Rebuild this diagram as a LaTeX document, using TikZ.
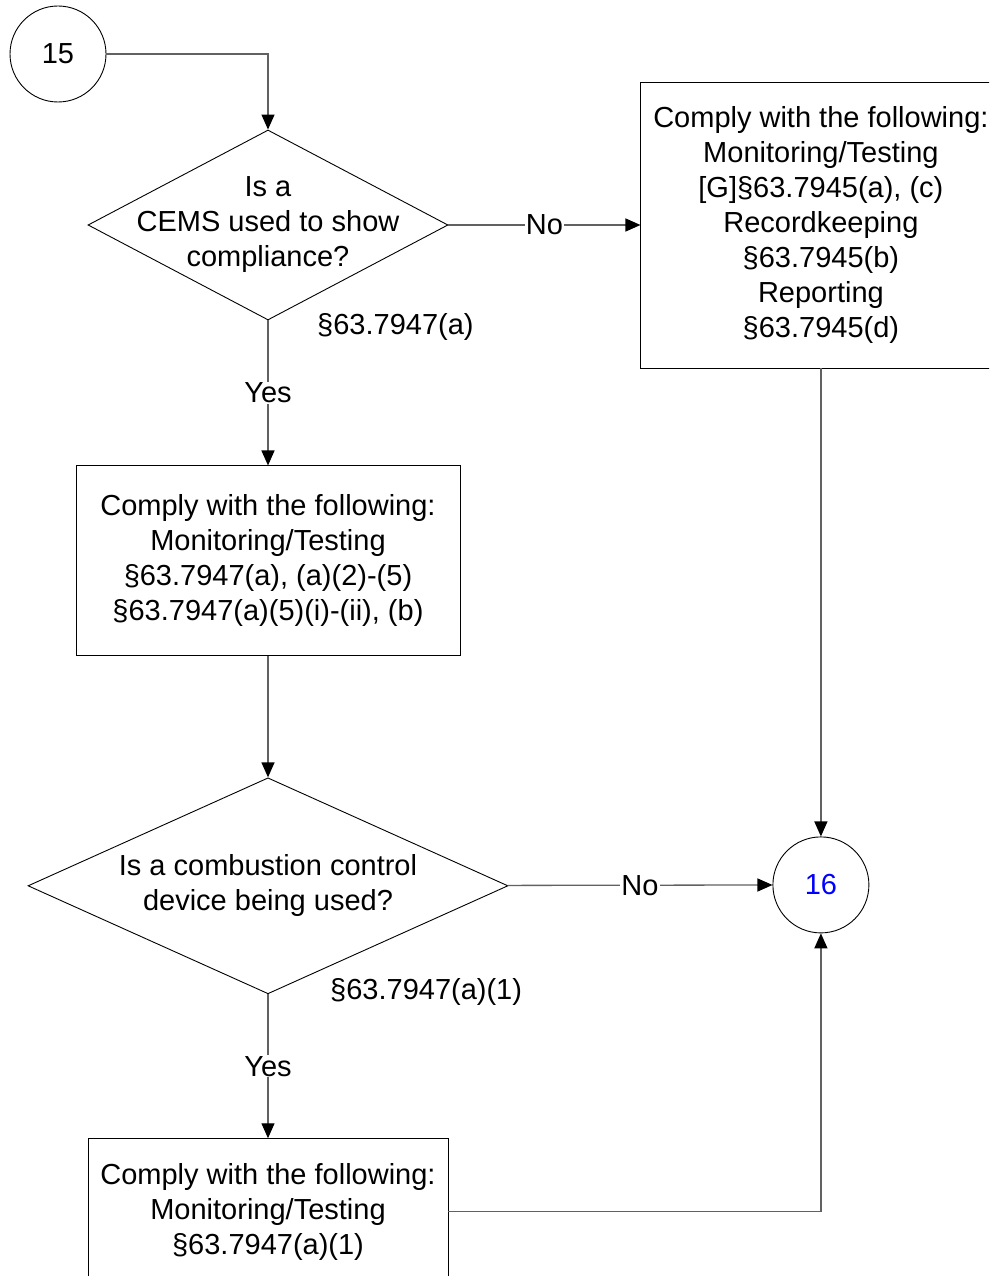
\documentclass[tikz,border=0pt]{standalone}
\usepackage{fontspec}
\setmainfont{Liberation Sans}
\usepackage{tikz}
\usetikzlibrary{positioning,shapes.geometric,arrows.meta}
\newcommand{\flowfont}{\fontsize{29}{35}\selectfont}
\tikzset{
  offpage/.style={circle, draw, line width=0.9pt, minimum size=96pt, inner sep=0pt, font=\flowfont},
  decision/.style={diamond, draw, line width=0.9pt, inner sep=0pt},
  action/.style={rectangle, draw, line width=0.9pt, align=center, inner sep=0pt, font=\flowfont},
  qtext/.style={align=center, inner sep=0pt, font=\flowfont},
  cite/.style={anchor=west, inner sep=0pt, font=\flowfont},
  answer/.style={fill=white, inner sep=1pt, font=\flowfont},
  flow/.style={draw=black!62, line width=1.3pt, -{Triangle[length=15pt,width=13pt,color=black]}},
}

\begin{document}
\begin{tikzpicture}[x=1pt, y=-1pt]
  \clip (0,0) rectangle (989,1276);

  % Define nodes
  \node[offpage] (c15) at (58,54) {15};
  \node[decision, minimum width=360pt, minimum height=190pt] (q1) at (268,225) {};
  \node[qtext] (q1t) at (q1) {Is a\\CEMS used to show\\compliance?};
  \node[action, minimum width=360pt, minimum height=286pt, right=192pt of q1] (rbox)
    {Comply with the following:\\Monitoring/Testing\\{[G]}§63.7945(a), (c)\\Recordkeeping\\§63.7945(b)\\Reporting\\§63.7945(d)};
  \node[action, minimum width=384pt, minimum height=190pt, below=145pt of q1] (cems)
    {Comply with the following:\\Monitoring/Testing\\§63.7947(a), (a)(2)-(5)\\§63.7947(a)(5)(i)-(ii), (b)};
  \node[decision, minimum width=480pt, minimum height=216pt, below=121pt of cems] (q2) {};
  \node[qtext] (q2t) at (q2) {Is a combustion control\\device being used?};
  \node[action, minimum width=360pt, minimum height=146pt, below=144pt of q2] (ccd)
    {Comply with the following:\\Monitoring/Testing\\§63.7947(a)(1)};
  \node[offpage, text=blue, below=468pt of rbox] (c16) {16};
  \node[cite] (ref1) at ([xshift=49pt, yshift=-7pt]q1.south) {§63.7947(a)};
  \node[cite] (ref2) at ([xshift=62pt, yshift=2pt]q2.south) {§63.7947(a)(1)};

  % Connect the nodes
  \draw[flow] (c15) -| (q1);
  \draw[flow] (q1) -- node[answer] (no1) {No} (rbox);
  \draw[flow] (q1) -- node[answer] (yes1) {Yes} (cems);
  \draw[flow] (cems) -- (q2);
  \draw[flow] (q2) -- node[answer] (no2) {No} (c16);
  \draw[flow] (q2) -- node[answer] (yes2) {Yes} (ccd);
  \draw[flow] (rbox) -- (c16);
  \draw[flow] (ccd) -| (c16);
\end{tikzpicture}
\end{document}
